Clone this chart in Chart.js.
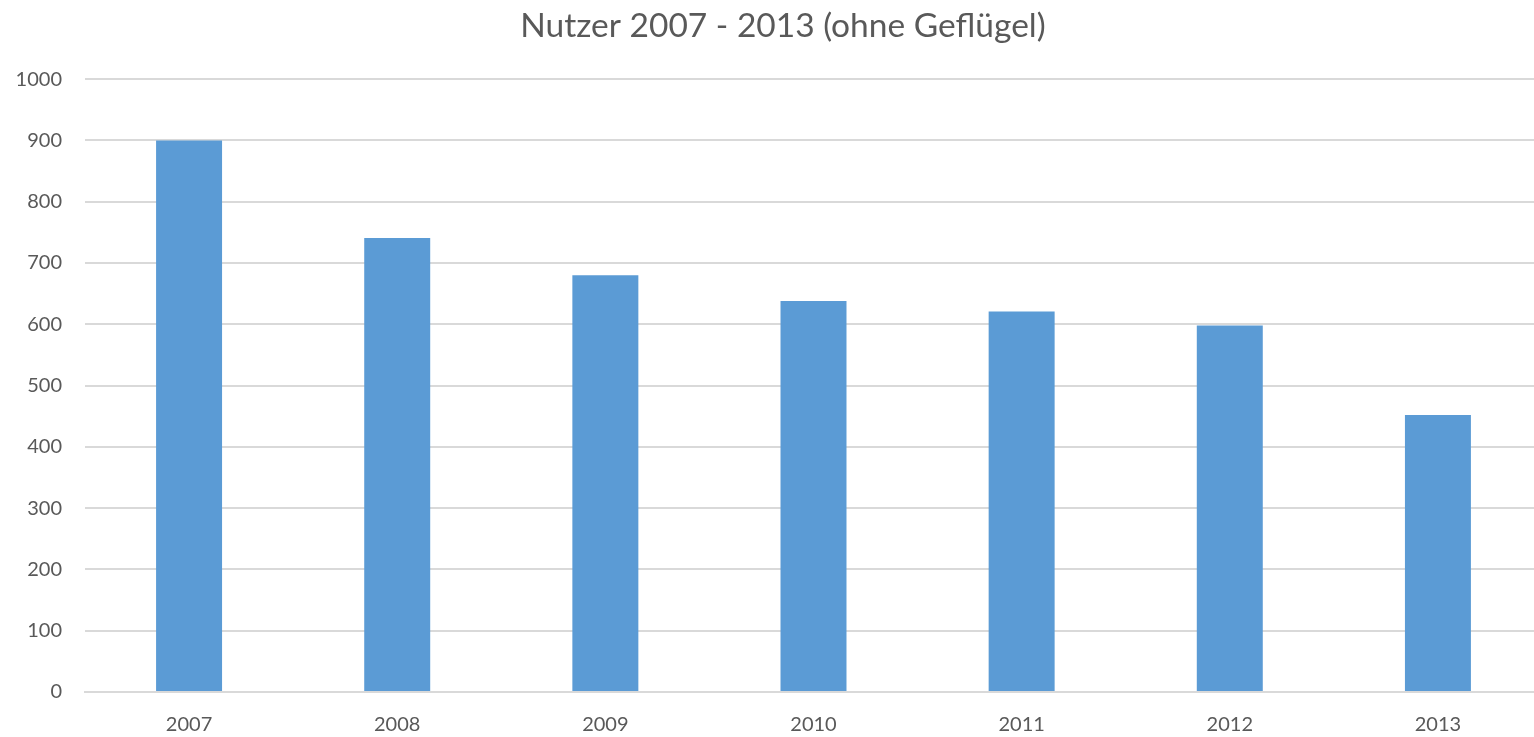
<!DOCTYPE html>
<html><head><meta charset="utf-8">
<script src="https://cdn.jsdelivr.net/npm/chart.js@4"></script>
<style>html,body{margin:0;padding:0;background:#fff;overflow:hidden}#wrap{width:1534px;height:737px;overflow:hidden}</style>
</head><body><div id="wrap"><canvas id="c" width="1542" height="737"></canvas></div>
<script>
const categories = ['2007','2008','2009','2010','2011','2012','2013'];
const nutzer = [900, 741, 680, 638, 621, 598, 452];
const yMin = 0, yMax = 1000, yStep = 100;
const titleText = 'Nutzer 2007 - 2013 (ohne Geflügel)';

const shiftTitle = {
  id: 'shiftTitle',
  afterLayout(chart) { if (chart.titleBlock) { chart.titleBlock.left = 32; chart.titleBlock.right = 1534; } }
};

new Chart(document.getElementById('c'), {
  type: 'bar',
  data: { labels: categories, datasets: [{ data: nutzer, backgroundColor: '#5b9bd5', borderWidth: 0, categoryPercentage: 1, barPercentage: 0.317 }] },
  options: {
    responsive: false, animation: false,
    layout: { padding: { left: 0, right: 0, top: 0, bottom: 0 } },
    plugins: {
      legend: { display: false }, tooltip: { enabled: false },
      title: { display: true, text: titleText, color: '#595959', font: { family: 'Lato', size: 33.5, weight: 'normal' }, padding: { top: 6, bottom: 33 } }
    },
    scales: {
      x: {
        afterFit: s => { s.height = 45; },
        grid: { display: false, drawTicks: false },
        border: { display: true, color: '#d9d9d9', width: 2 },
        ticks: { color: '#595959', font: { family: 'Lato', size: 20 }, padding: 21 }
      },
      y: {
        min: yMin, max: yMax,
        afterFit: s => { s.width = 85; },
        grid: { color: '#d9d9d9', lineWidth: 2, drawTicks: false },
        border: { display: false },
        ticks: { stepSize: yStep, color: '#595959', font: { family: 'Lato', size: 20 }, padding: 23, callback: v => String(v) }
      }
    }
  },
  plugins: [shiftTitle]
});
</script></body></html>
